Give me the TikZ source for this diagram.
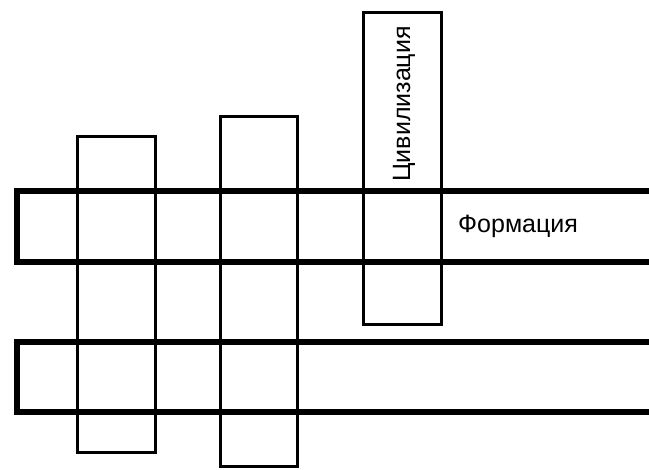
\documentclass[tikz,border=0pt]{standalone}
\usepackage{fontspec}
\setmainfont{Liberation Sans}
\usepackage{tikz}
\usetikzlibrary{positioning}

\begin{document}
\begin{tikzpicture}[
    x=1pt, y=-1pt,
    bar/.style={draw, line width=6pt},
    col/.style={draw, line width=3pt},
    lbl/.style={font=\fontsize{25}{28}\selectfont, inner sep=0pt}
]
\useasboundingbox (0,0) rectangle (649,470);

% Columns
\draw[col] (77,137) rectangle (155,453);
\draw[col] (220,117) rectangle (297,467);
\draw[col] (363,13) rectangle (441,325);

% Bars (open on the right)
\draw[bar] (649,191) -- (17,191) -- (17,262) -- (649,262);
\draw[bar] (649,342) -- (17,342) -- (17,412) -- (649,412);

% Labels
\node[lbl, rotate=90] (civ) at (404,104) {Цивилизация};
\node[lbl, anchor=west] (form) at (458,226) {Формация};

\end{tikzpicture}
\end{document}
